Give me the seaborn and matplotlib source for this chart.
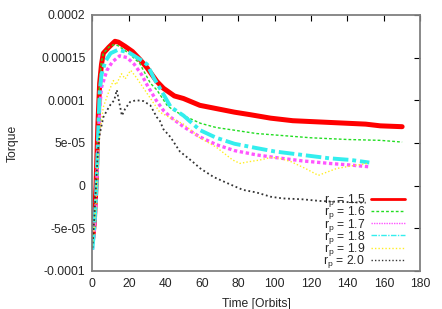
import numpy as np
import pandas as pd
import seaborn as sns
import matplotlib.pyplot as plt
from matplotlib.lines import Line2D

# torque vs time for different planet radii r_p
t_red = [0, 1, 2, 3, 4, 5, 6, 9, 12.4, 14.3, 18, 22, 26, 30, 35.4, 39, 45, 50, 59, 68.5, 78, 86.8, 97.8, 110, 130, 150, 158, 170]
v_red = [-6.5e-5, -4.5e-5, 0, 7e-5, 1.2e-4, 1.42e-4, 1.55e-4, 1.62e-4, 1.69e-4, 1.68e-4, 1.63e-4, 1.57e-4, 1.48e-4,
         1.38e-4, 1.22e-4, 1.14e-4, 1.05e-4, 1.02e-4, 9.4e-5, 9.0e-5, 8.6e-5, 8.3e-5, 7.9e-5, 7.6e-5, 7.4e-5, 7.2e-5, 7.0e-5, 6.9e-5]

t_green = [0, 1, 2, 3, 4, 5, 6, 9, 11.6, 14, 20, 26, 31.8, 35.4, 41, 44.6, 50, 59.3, 68, 77.6, 90, 102, 120, 140, 158, 170]
v_green = [-7e-5, -4.5e-5, 0, 7e-5, 1.25e-4, 1.45e-4, 1.55e-4, 1.62e-4, 1.65e-4, 1.64e-4, 1.55e-4, 1.43e-4, 1.2e-4,
           1.12e-4, 9.4e-5, 8.8e-5, 8.2e-5, 7.3e-5, 6.8e-5, 6.5e-5, 6.1e-5, 5.9e-5, 5.6e-5, 5.4e-5, 5.3e-5, 5.1e-5]

t_mag = [0, 1, 2, 3, 4, 5, 8, 11, 15, 19, 23, 27, 30, 35, 39, 43, 50, 59, 68, 78, 90, 100, 115, 130, 142, 152]
v_mag = [-7.5e-5, -5.5e-5, -2e-5, 4e-5, 9e-5, 1.15e-4, 1.35e-4, 1.45e-4, 1.52e-4, 1.5e-4, 1.42e-4, 1.3e-4, 1.18e-4,
         1.0e-4, 8.8e-5, 8.0e-5, 6.9e-5, 5.7e-5, 4.8e-5, 4.1e-5, 3.6e-5, 3.3e-5, 2.9e-5, 2.6e-5, 2.4e-5, 2.2e-5]

t_cyan = [0, 1, 2, 3, 4, 5, 7, 10, 14, 20, 26, 30, 34, 39, 43, 50, 59, 68, 78, 90, 100, 115, 130, 142, 152]
v_cyan = [-7.5e-5, -5e-5, -1.5e-5, 5e-5, 1.1e-4, 1.3e-4, 1.45e-4, 1.55e-4, 1.59e-4, 1.56e-4, 1.48e-4, 1.42e-4, 1.25e-4,
          1.07e-4, 9.2e-5, 8.2e-5, 6.5e-5, 5.6e-5, 4.9e-5, 4.4e-5, 4.0e-5, 3.6e-5, 3.2e-5, 3.0e-5, 2.7e-5]

t_yel = [0, 1, 2, 3, 4, 6, 9, 11.5, 13, 16, 18, 21, 24, 30, 37, 44, 50, 59, 68, 77, 81, 86, 92, 98, 103, 109, 117,
         124, 129, 134, 142, 151]
v_yel = [-7e-5, -5e-5, -2e-5, 3e-5, 6e-5, 9.2e-5, 1.1e-4, 1.23e-4, 1.18e-4, 1.31e-4, 1.25e-4, 1.35e-4, 1.27e-4, 1.08e-4,
         8.6e-5, 7.8e-5, 7.2e-5, 5.6e-5, 4.5e-5, 3.0e-5, 2.6e-5, 2.8e-5, 3.0e-5, 3.3e-5, 3.2e-5, 2.8e-5, 2.0e-5,
         1.2e-5, 1.6e-5, 2.0e-5, 2.3e-5, 2.6e-5]

t_blk = [0, 1, 2, 3, 4, 6, 8, 10, 12, 13.4, 14.5, 16.2, 18, 20.7, 24, 28, 31.8, 35.4, 37, 39, 42.8, 48, 55, 59.3,
         66.6, 75, 82.6, 90, 97.8, 104.5, 115, 125, 135, 150]
v_blk = [-7.3e-5, -4e-5, 0, 4e-5, 6e-5, 8.0e-5, 8.8e-5, 9.5e-5, 1.0e-4, 1.12e-4, 1.0e-4, 8.2e-5, 9.0e-5, 9.8e-5,
         1.0e-4, 9.9e-5, 9.4e-5, 8.0e-5, 7.6e-5, 6.6e-5, 5.7e-5, 4.0e-5, 2.8e-5, 2.0e-5, 1.0e-5, 2e-6, -5e-6,
         -8e-6, -1.3e-5, -1.5e-5, -1.6e-5, -1.8e-5, -1.9e-5, -2e-5]

labels = [r'$\mathregular{r_p}$ = 1.5', r'$\mathregular{r_p}$ = 1.6', r'$\mathregular{r_p}$ = 1.7',
          r'$\mathregular{r_p}$ = 1.8', r'$\mathregular{r_p}$ = 1.9', r'$\mathregular{r_p}$ = 2.0']

yticks = [-0.0001, -5e-05, 0, 5e-05, 0.0001, 0.00015, 0.0002]
ytick_labels = ['-0.0001', '-5e-05', '0', '5e-05', '0.0001', '0.00015', '0.0002']
xticks = [0, 20, 40, 60, 80, 100, 120, 140, 160, 180]

sns.set_style("white")
plt.rcParams['font.family'] = ['Liberation Sans', 'DejaVu Sans']

fig, ax = plt.subplots(figsize=(4.42, 3.09), dpi=100)
fig.subplots_adjust(left=0.209, right=0.951, top=0.952, bottom=0.123)

series = [
    (t_red, v_red, '#ff0000', '-', 3.6),
    (t_green, v_green, '#22dd22', (0, (2, 1.5)), 1.0),
    (t_mag, v_mag, '#ff55ff', (0, (1, 0.8)), 2.4),
    (t_cyan, v_cyan, '#33eeee', (0, (4, 1, 1, 1)), 2.8),
    (t_yel, v_yel, '#ffee22', (0, (1, 1.5)), 1.0),
    (t_blk, v_blk, '#333333', (0, (1, 1.5)), 1.3),
]

handles = []
for (t, v, col, ls, lw), lab in zip(series, labels):
    df = pd.DataFrame({'time': t, 'torque': v})
    sns.lineplot(data=df, x='time', y='torque', color=col, linestyle=ls, linewidth=lw,
                 ax=ax, sort=False, legend=False)
    handles.append(Line2D([], [], color=col, linestyle=ls, linewidth=2.0 if ls == '-' else 1.0, label=lab))

ax.set_xlim(0, 180)
ax.set_ylim(-0.0001, 0.0002)
ax.set_xticks(xticks)
ax.set_yticks(yticks)
ax.set_yticklabels(ytick_labels)
ax.set_xlabel('Time [Orbits]', fontsize=8.7, labelpad=6)
ax.set_ylabel('Torque', fontsize=8.7, labelpad=16)
ax.tick_params(direction='in', length=4, width=0.8, top=True, right=True, labelsize=8.7, color='black', pad=5)
for sp in ax.spines.values():
    sp.set_color('#808080')
    sp.set_linewidth(1.3)

leg = ax.legend(handles=handles, loc='lower right', bbox_to_anchor=(0.975, -0.025), markerfirst=False, frameon=False,
                fontsize=8.7, handlelength=2.8, labelspacing=-0.4, borderaxespad=0.2, handletextpad=0.5)

fig.savefig('out.png', dpi=100)
